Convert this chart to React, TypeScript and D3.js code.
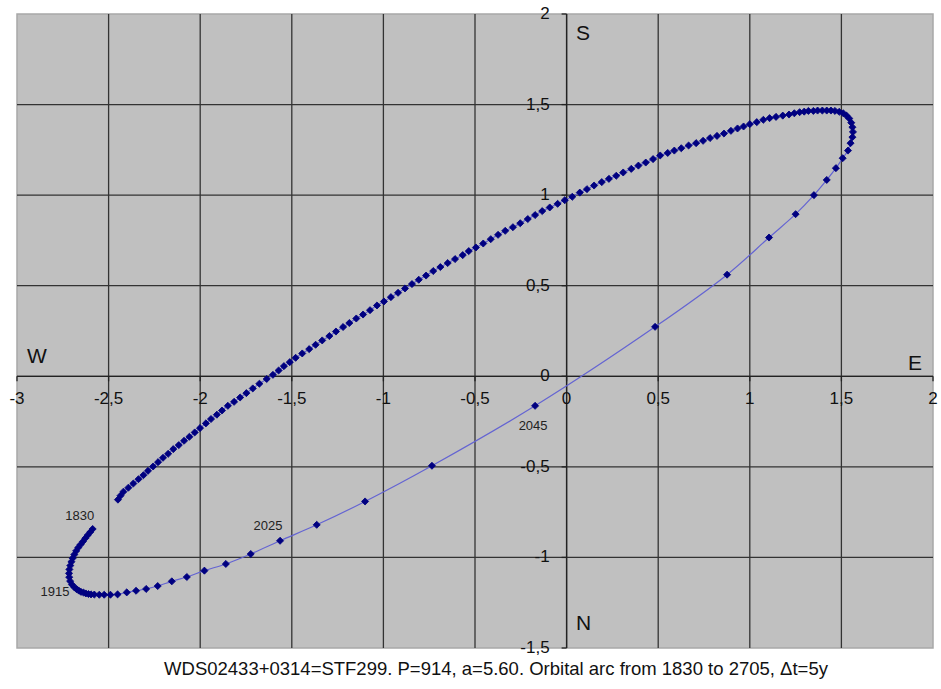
import React, { useEffect, useRef } from 'react';
import * as d3 from 'd3';

// orbit positions, one every 5 years from 1830 to 2705
const startYear = 1830;
const stepYears = 5;

const orbitX = [
  -2.587, -2.600, -2.614, -2.627, -2.640, -2.653, -2.666, -2.677, -2.687, -2.696,
  -2.703, -2.709, -2.714, -2.716, -2.715, -2.710, -2.700, -2.686, -2.675, -2.663,
  -2.651, -2.637, -2.624, -2.610, -2.596, -2.578, -2.551, -2.524, -2.490, -2.451,
  -2.401, -2.350, -2.295, -2.232, -2.155, -2.073, -1.977, -1.860, -1.724, -1.564,
  -1.364, -1.100, -0.735, -0.172, 0.483, 0.876, 1.105, 1.250, 1.350, 1.420,
  1.470, 1.507, 1.536, 1.550, 1.560, 1.563, 1.560, 1.554, 1.543, 1.528,
  1.510, 1.488, 1.465, 1.443, 1.420, 1.396, 1.370, 1.347, 1.320, 1.297,
  1.272, 1.243, 1.214, 1.180, 1.143, 1.108, 1.074, 1.038, 1.000, 0.966,
  0.933, 0.897, 0.859, 0.821, 0.783, 0.745, 0.707, 0.666, 0.626, 0.588,
  0.552, 0.511, 0.472, 0.432, 0.392, 0.353, 0.309, 0.271, 0.231, 0.192,
  0.150, 0.111, 0.072, 0.031, -0.010, -0.049, -0.092, -0.133, -0.172, -0.212,
  -0.253, -0.293, -0.335, -0.374, -0.414, -0.455, -0.495, -0.534, -0.567, -0.609,
  -0.649, -0.689, -0.728, -0.767, -0.807, -0.844, -0.882, -0.920, -0.959, -0.997,
  -1.035, -1.073, -1.111, -1.148, -1.186, -1.220, -1.259, -1.295, -1.334, -1.370,
  -1.405, -1.443, -1.479, -1.511, -1.543, -1.572, -1.603, -1.637, -1.677, -1.713,
  -1.748, -1.782, -1.815, -1.849, -1.881, -1.909, -1.941, -1.969, -2.001, -2.030,
  -2.059, -2.088, -2.117, -2.147, -2.175, -2.203, -2.230, -2.257, -2.285, -2.310,
  -2.337, -2.365, -2.392, -2.419, -2.435, -2.449,
];

const orbitY = [
  -0.843, -0.860, -0.877, -0.894, -0.912, -0.929, -0.946, -0.964, -0.984, -1.004,
  -1.024, -1.045, -1.066, -1.088, -1.109, -1.131, -1.150, -1.166, -1.175, -1.183,
  -1.190, -1.194, -1.199, -1.202, -1.204, -1.205, -1.206, -1.206, -1.206, -1.204,
  -1.193, -1.184, -1.174, -1.158, -1.132, -1.108, -1.073, -1.036, -0.981, -0.908,
  -0.820, -0.691, -0.494, -0.163, 0.273, 0.561, 0.766, 0.895, 1.000, 1.084,
  1.149, 1.204, 1.246, 1.287, 1.320, 1.349, 1.375, 1.400, 1.423, 1.439,
  1.452, 1.460, 1.465, 1.467, 1.467, 1.467, 1.467, 1.465, 1.465, 1.461,
  1.458, 1.452, 1.445, 1.439, 1.432, 1.425, 1.416, 1.403, 1.392, 1.379,
  1.368, 1.355, 1.340, 1.327, 1.315, 1.300, 1.287, 1.274, 1.259, 1.246,
  1.233, 1.219, 1.199, 1.180, 1.163, 1.145, 1.125, 1.107, 1.090, 1.072,
  1.053, 1.033, 1.014, 0.991, 0.972, 0.952, 0.932, 0.912, 0.890, 0.868,
  0.845, 0.823, 0.803, 0.781, 0.757, 0.733, 0.711, 0.691, 0.669, 0.647,
  0.625, 0.603, 0.581, 0.556, 0.533, 0.509, 0.485, 0.461, 0.437, 0.413,
  0.391, 0.365, 0.341, 0.319, 0.294, 0.272, 0.247, 0.222, 0.198, 0.174,
  0.150, 0.126, 0.102, 0.078, 0.056, 0.032, 0.008, -0.015, -0.041, -0.067,
  -0.093, -0.117, -0.141, -0.163, -0.189, -0.212, -0.236, -0.260, -0.286, -0.310,
  -0.334, -0.356, -0.380, -0.402, -0.428, -0.450, -0.474, -0.498, -0.522, -0.546,
  -0.568, -0.592, -0.615, -0.637, -0.659, -0.681,
];

const labelYears = [1830, 1915, 2025, 2045];
const xTickValues = [-3, -2.5, -2, -1.5, -1, -0.5, 0, 0.5, 1, 1.5, 2];
const yTickValues = [-1.5, -1, -0.5, 0, 0.5, 1, 1.5, 2];
const caption = 'WDS02433+0314=STF299. P=914, a=5.60. Orbital arc from 1830 to 2705, \u0394t=5y';

const W = 941;
const H = 689;
const FONT = 'Liberation Sans, Arial, sans-serif';

const App = () => {
  const svgRef = useRef(null);

  useEffect(() => {
    const svg = d3.select(svgRef.current);
    svg.selectAll('*').remove();

    const x = d3.scaleLinear().domain([-3, 2]).range([17, 933]);
    const y = d3.scaleLinear().domain([-1.5, 2]).range([648, 14]);
    const fmt = (v) => String(v).replace('.', ',');

    const data = orbitX.map((v, i) => ({ x: v, y: orbitY[i], year: startYear + i * stepYears }));

    // plot area
    svg.append('rect')
      .attr('x', x(-3)).attr('y', y(2))
      .attr('width', x(2) - x(-3)).attr('height', y(-1.5) - y(2))
      .attr('fill', '#c0c0c0')
      .attr('stroke', '#a8a8a8')
      .attr('stroke-width', 1.5);

    // grid
    const grid = svg.append('g').attr('stroke', '#333').attr('stroke-width', 1.3);
    grid.selectAll('.gx').data(xTickValues.slice(1, -1)).enter().append('line')
      .attr('x1', d => x(d)).attr('x2', d => x(d))
      .attr('y1', y(2)).attr('y2', y(-1.5));
    grid.selectAll('.gy').data(yTickValues.slice(1, -1)).enter().append('line')
      .attr('y1', d => y(d)).attr('y2', d => y(d))
      .attr('x1', x(-3)).attr('x2', x(2));

    // axes through origin
    const axes = svg.append('g').attr('stroke', '#222').attr('stroke-width', 1.3);
    axes.append('line').attr('x1', x(-3)).attr('x2', x(2)).attr('y1', y(0)).attr('y2', y(0));
    axes.append('line').attr('x1', x(0)).attr('x2', x(0)).attr('y1', y(2)).attr('y2', y(-1.5));
    axes.selectAll('.tx').data(xTickValues).enter().append('line')
      .attr('x1', d => x(d)).attr('x2', d => x(d))
      .attr('y1', y(0)).attr('y2', y(0) + 5);
    axes.selectAll('.ty').data(yTickValues).enter().append('line')
      .attr('y1', d => y(d)).attr('y2', d => y(d))
      .attr('x1', x(0) - 5).attr('x2', x(0));

    // tick labels
    svg.append('g').selectAll('text').data(xTickValues).enter().append('text')
      .attr('x', d => x(d)).attr('y', y(0) + 28)
      .attr('text-anchor', 'middle')
      .attr('font-family', FONT).attr('font-size', 17).attr('fill', '#111')
      .text(d => fmt(d));
    svg.append('g').selectAll('text').data(yTickValues).enter().append('text')
      .attr('x', x(0) - 17).attr('y', d => y(d) + 5)
      .attr('text-anchor', 'end')
      .attr('font-family', FONT).attr('font-size', 17).attr('fill', '#111')
      .text(d => fmt(d));

    // compass letters
    const compass = [
      { t: 'S', px: 576, py: 40 },
      { t: 'N', px: 576, py: 630 },
      { t: 'W', px: 27, py: 363 },
      { t: 'E', px: 908, py: 370 },
    ];
    svg.append('g').selectAll('text').data(compass).enter().append('text')
      .attr('x', d => d.px).attr('y', d => d.py)
      .attr('font-family', FONT).attr('font-size', 21).attr('fill', '#111')
      .text(d => d.t);

    // orbit line
    const line = d3.line()
      .x(d => x(d.x))
      .y(d => y(d.y))
      .curve(d3.curveCatmullRom.alpha(0.5));
    svg.append('path')
      .datum(data)
      .attr('d', line)
      .attr('fill', 'none')
      .attr('stroke', '#6464d2')
      .attr('stroke-width', 1.2);

    // markers
    const diamond = d3.symbol().type(d3.symbolSquare).size(25);
    svg.append('g').selectAll('path').data(data).enter().append('path')
      .attr('d', diamond)
      .attr('transform', d => `translate(${x(d.x)},${y(d.y)}) rotate(45)`)
      .attr('fill', '#000080')
      .attr('stroke', '#000080')
      .attr('stroke-width', 0.8);

    // year labels
    const offsets = {
      1830: [-13, -9, 'middle'],
      1915: [-5, 9, 'end'],
      2025: [-12, -11, 'middle'],
      2045: [-2, 24, 'middle'],
    };
    svg.append('g').selectAll('text')
      .data(data.filter(d => labelYears.includes(d.year)))
      .enter().append('text')
      .attr('x', d => x(d.x) + offsets[d.year][0])
      .attr('y', d => y(d.y) + offsets[d.year][1])
      .attr('text-anchor', d => offsets[d.year][2])
      .attr('font-family', FONT).attr('font-size', 13).attr('fill', '#222')
      .text(d => d.year);

    // caption
    svg.append('text')
      .attr('x', 496).attr('y', 675)
      .attr('text-anchor', 'middle')
      .attr('font-family', FONT).attr('font-size', 18.5).attr('fill', '#111')
      .text(caption);
  }, []);

  return (
    <svg ref={svgRef} width={W} height={H}
      style={{ position: 'absolute', left: 0, top: 0, background: '#fff' }}></svg>
  );
};

export default App;
